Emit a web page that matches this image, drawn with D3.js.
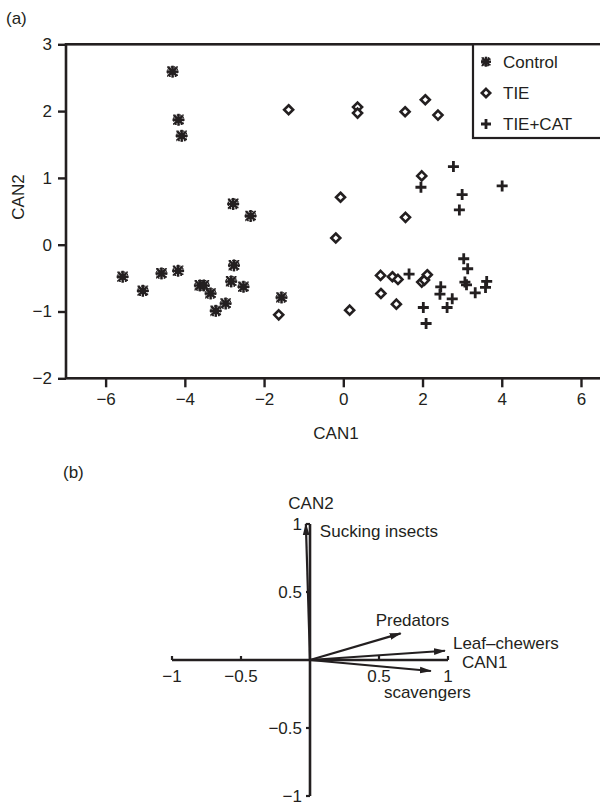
<!DOCTYPE html>
<html><head><meta charset="utf-8">
<script src="https://cdn.jsdelivr.net/npm/d3@7"></script>
<style>
body{margin:0;background:#fff}
svg text{font-family:"Liberation Sans",Arial,Helvetica,sans-serif;fill:#231f20}
</style>
</head><body>
<svg id="chart" width="600" height="806"></svg>
<script>
// ---------- Data: panel (a) canonical scores ----------
const controlCAN1 = [-4.31,-4.16,-4.08,-2.78,-2.34,-5.57,-5.06,-4.59,-4.17,-3.62,-3.52,-3.35,-3.22,-2.97,-2.76,-2.83,-2.52,-1.56];
const controlCAN2 = [ 2.59, 1.87, 1.63, 0.61, 0.43,-0.48,-0.69,-0.43,-0.39,-0.61,-0.61,-0.73,-0.99,-0.88,-0.31,-0.55,-0.63,-0.79];

const tieCAN1 = [-1.38,0.36,0.36,1.56,2.07,2.39,1.98,-0.07,1.57,-0.19,0.94,1.24,1.38,0.95,1.34,0.16,1.98,2.05,2.12,-1.63];
const tieCAN2 = [ 2.02,2.06,1.97,1.99,2.17,1.94,1.03, 0.71,0.41, 0.10,-0.46,-0.48,-0.52,-0.73,-0.89,-0.98,-0.56,-0.53,-0.45,-1.05];

const tiecatCAN1 = [2.78,1.96,3.00,2.93,4.01,3.04,3.14,3.07,3.11,3.33,3.62,3.59,2.46,2.44,2.75,2.62,2.02,2.09,1.66];
const tiecatCAN2 = [1.17,0.86,0.75,0.52,0.88,-0.21,-0.36,-0.56,-0.60,-0.72,-0.55,-0.64,-0.63,-0.74,-0.81,-0.94,-0.94,-1.18,-0.44];

const groupNames = ["Control","TIE","TIE+CAT"];
const xTicksA = [-6,-4,-2,0,2,4,6];
const yTicksA = [-2,-1,0,1,2,3];

// ---------- Data: panel (b) loadings ----------
const loadingNames = ["Sucking insects","Predators","Leaf\u2013chewers","scavengers"];
const loadingCAN1  = [-0.03, 0.657, 0.978, 0.876];
const loadingCAN2  = [ 1.00, 0.196, 0.068,-0.081];
const ticksB = [-1,-0.5,0.5,1];

// ---------- Drawing ----------
const ink = "#231f20";
const svg = d3.select("#chart");
const FS = 17;
const fmt = d3.format("");
const num = v => fmt(v).replace("-","\u2212");

// Panel (a)
const xA = d3.scaleLinear().domain([-7,7]).range([66,620.6]);
const yA = d3.scaleLinear().domain([-2,3]).range([378.3,44.3]);

svg.append("text").attr("x",6).attr("y",24).attr("font-size",FS).text("(a)");

svg.append("rect").attr("x",xA(-7)).attr("y",yA(3))
  .attr("width",xA(7)-xA(-7)).attr("height",yA(-2)-yA(3))
  .attr("fill","none").attr("stroke",ink).attr("stroke-width",2.6);

const gx = svg.append("g").attr("transform",`translate(0,${yA(-2)})`)
  .call(d3.axisBottom(xA).tickValues(xTicksA).tickFormat(num).tickSize(9).tickPadding(6));
const gy = svg.append("g").attr("transform",`translate(${xA(-7)},0)`)
  .call(d3.axisLeft(yA).tickValues(yTicksA).tickFormat(num).tickSize(8).tickPadding(6));
[gx,gy].forEach(g=>{
  g.select(".domain").remove();
  g.selectAll(".tick line").attr("stroke",ink).attr("stroke-width",2.4);
  g.selectAll(".tick text").attr("font-size",FS).attr("fill",ink)
   .attr("font-family","Liberation Sans, Arial, sans-serif");
});

svg.append("text").attr("x",336).attr("y",439).attr("text-anchor","middle")
  .attr("font-size",FS).text("CAN1");
svg.append("text").attr("transform","translate(24,197) rotate(-90)")
  .attr("text-anchor","middle").attr("font-size",FS).text("CAN2");

// marker drawing functions
function drawControl(g, cx, cy, r){
  const s = g.append("g").attr("transform",`translate(${cx},${cy})`);
  [0,45,90,135].forEach(a=>{
    const rad = a*Math.PI/180;
    s.append("line")
      .attr("x1",-r*Math.cos(rad)).attr("y1",-r*Math.sin(rad))
      .attr("x2", r*Math.cos(rad)).attr("y2", r*Math.sin(rad))
      .attr("stroke",ink).attr("stroke-width",2.4);
  });
  s.append("rect").attr("x",-r*0.5).attr("y",-r*0.5).attr("width",r).attr("height",r).attr("fill",ink);
  s.append("rect").attr("x",-r*0.78).attr("y",-r*0.78).attr("width",r*1.56).attr("height",r*1.56)
    .attr("fill","none").attr("stroke",ink).attr("stroke-width",1.3).attr("stroke-dasharray","1.6,1.2");
}
function drawTie(g, cx, cy, r){
  g.append("path").attr("d",`M${cx},${cy-r}L${cx+r},${cy}L${cx},${cy+r}L${cx-r},${cy}Z`)
   .attr("fill","#fff").attr("stroke",ink).attr("stroke-width",2.6);
}
function drawPlus(g, cx, cy, r){
  g.append("path").attr("d",`M${cx-r},${cy}H${cx+r}M${cx},${cy-r}V${cy+r}`)
   .attr("stroke",ink).attr("stroke-width",2.8).attr("fill","none");
}

const pts = svg.append("g");
tieCAN1.forEach((v,i)=>drawTie(pts, xA(v), yA(tieCAN2[i]), 4.5));
controlCAN1.forEach((v,i)=>drawControl(pts, xA(v), yA(controlCAN2[i]), 6));
tiecatCAN1.forEach((v,i)=>drawPlus(pts, xA(v), yA(tiecatCAN2[i]), 5.5));

// legend
const lg = svg.append("g");
lg.append("rect").attr("x",473).attr("y",yA(3)).attr("width",160).attr("height",138-yA(3))
  .attr("fill","#fff").attr("stroke",ink).attr("stroke-width",2.2);
const legY = [61.7,93,124];
drawControl(lg, 486, legY[0], 5);
drawTie(lg, 486, legY[1], 4.2);
drawPlus(lg, 486, legY[2], 5);
groupNames.forEach((n,i)=>{
  lg.append("text").attr("x",503).attr("y",legY[i]+6).attr("font-size",FS).text(n);
});

// Panel (b)
svg.append("text").attr("x",63).attr("y",478).attr("font-size",FS).text("(b)");
const xB = d3.scaleLinear().domain([-1,1]).range([172,448]);
const yB = d3.scaleLinear().domain([-1,1]).range([796,524]);
const gb = svg.append("g");
gb.append("line").attr("x1",xB(-1)).attr("x2",xB(1)).attr("y1",yB(0)).attr("y2",yB(0))
  .attr("stroke",ink).attr("stroke-width",2.6);
gb.append("line").attr("x1",xB(0)).attr("x2",xB(0)).attr("y1",yB(-1)).attr("y2",yB(1))
  .attr("stroke",ink).attr("stroke-width",2.6);
ticksB.forEach(t=>{
  gb.append("line").attr("x1",xB(t)).attr("x2",xB(t)).attr("y1",yB(0)).attr("y2",yB(0)-4)
    .attr("stroke",ink).attr("stroke-width",2.2);
  gb.append("text").attr("x",xB(t)).attr("y",yB(0)+22).attr("text-anchor","middle")
    .attr("font-size",FS).text(num(t));
  gb.append("line").attr("x1",xB(0)-4).attr("x2",xB(0)).attr("y1",yB(t)).attr("y2",yB(t))
    .attr("stroke",ink).attr("stroke-width",2.2);
  gb.append("text").attr("x",xB(0)-8).attr("y",yB(t)+6).attr("text-anchor","end")
    .attr("font-size",FS).text(num(t));
});
gb.append("text").attr("x",xB(0)+1).attr("y",yB(1)-15).attr("text-anchor","middle")
  .attr("font-size",FS).text("CAN2");
gb.append("text").attr("x",xB(1)+14).attr("y",yB(0)+8).attr("font-size",FS).text("CAN1");

svg.append("defs").append("marker").attr("id","ah")
  .attr("viewBox","0 -4 12 8").attr("refX",11).attr("refY",0)
  .attr("markerWidth",12).attr("markerHeight",8).attr("markerUnits","userSpaceOnUse")
  .attr("orient","auto")
  .append("path").attr("d","M0,-3.4L12,0L0,3.4Z").attr("fill",ink);

const labelOff = [[14,13],[-25,-7],[8,-2],[-47,27]];
loadingNames.forEach((n,i)=>{
  const tx = xB(loadingCAN1[i]), ty = yB(loadingCAN2[i]);
  gb.append("line").attr("x1",xB(0)).attr("y1",yB(0)).attr("x2",tx).attr("y2",ty)
    .attr("stroke",ink).attr("stroke-width",2.2).attr("marker-end","url(#ah)");
  gb.append("text").attr("x",tx+labelOff[i][0]).attr("y",ty+labelOff[i][1])
    .attr("font-size",FS).text(n);
});
</script>
</body></html>
